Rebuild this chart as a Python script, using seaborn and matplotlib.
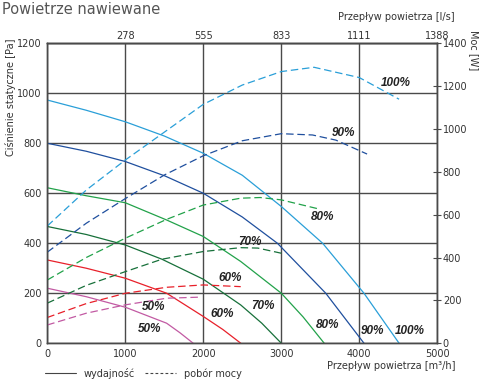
"""
plot.py - fan curves: static pressure (solid) and power input (dashed)
for supply air at 50-100% fan speed.
"""

import pandas as pd
import matplotlib
matplotlib.use("Agg")
import matplotlib.pyplot as plt
import seaborn as sns
from matplotlib.lines import Line2D

# ---- data -------------------------------------------------------------------
speeds = ["100%", "90%", "80%", "70%", "60%", "50%"]
colors = ["#2a9fd8", "#1f4f9e", "#22a24a", "#17703a", "#e8202a", "#c25aa3"]

# static pressure [Pa] vs air flow [m3/h]
flow_pa_100 = [0, 500, 1000, 1500, 2000, 2500, 3000, 3530, 4060, 4510]
pa_100 = [973, 932, 886, 829, 760, 672, 547, 400, 200, 0]
flow_pa_90 = [0, 500, 1000, 1510, 2000, 2500, 2950, 3570, 4060]
pa_90 = [800, 768, 727, 669, 600, 505, 400, 200, 0]
flow_pa_80 = [0, 500, 1000, 1530, 2000, 2480, 3000, 3280, 3550]
pa_80 = [622, 590, 562, 493, 427, 327, 200, 105, 0]
flow_pa_70 = [0, 500, 1000, 1470, 2000, 2480, 2750, 3000]
pa_70 = [467, 435, 393, 336, 256, 153, 80, 0]
flow_pa_60 = [0, 500, 1000, 1530, 2000, 2250, 2480]
pa_60 = [333, 300, 260, 200, 107, 55, 0]
flow_pa_50 = [0, 500, 1000, 1530, 1700, 1870]
pa_50 = [220, 186, 144, 80, 42, 0]

# power input [W] vs air flow [m3/h]
flow_w_100 = [0, 500, 1000, 1500, 2000, 2500, 3000, 3420, 4000, 4510]
w_100 = [547, 715, 855, 985, 1115, 1205, 1268, 1288, 1240, 1139]
flow_w_90 = [0, 500, 1000, 1500, 2000, 2500, 3000, 3400, 3700, 4100]
w_90 = [425, 560, 675, 785, 875, 945, 978, 972, 948, 883]
flow_w_80 = [0, 500, 1000, 1530, 2000, 2480, 2730, 3000, 3500]
w_80 = [295, 400, 490, 578, 645, 677, 680, 669, 625]
flow_w_70 = [0, 500, 1000, 1470, 2000, 2480, 2700, 3000]
w_70 = [187, 270, 334, 392, 428, 446, 444, 420]
flow_w_60 = [0, 500, 1000, 1530, 2000, 2480]
w_60 = [120, 185, 233, 261, 272, 264]
flow_w_50 = [0, 500, 1000, 1530, 1960]
w_50 = [85, 140, 179, 210, 215]

# top axis: same flow expressed in l/s
ls_ticks = [1000, 2000, 3000, 4000, 5000]
ls_labels = ["278", "555", "833", "1111", "1388"]

# curve labels: (x, y) in data units of the matching axis
pa_label_pos = [(4652, 50), (4168, 50), (3598, 73), (2767, 149), (2241, 117), (1311, 56)]
w_label_pos = [(4473, 1214), (3797, 983), (3526, 591), (2596, 474), (2339, 303), (1362, 168)]


def to_long(flows, values):
    rows = []
    for speed, fl, vals in zip(speeds, flows, values):
        for f, v in zip(fl, vals):
            rows.append({"speed": speed, "flow": f, "value": v})
    return pd.DataFrame(rows)


df_pa = to_long(
    [flow_pa_100, flow_pa_90, flow_pa_80, flow_pa_70, flow_pa_60, flow_pa_50],
    [pa_100, pa_90, pa_80, pa_70, pa_60, pa_50],
)
df_w = to_long(
    [flow_w_100, flow_w_90, flow_w_80, flow_w_70, flow_w_60, flow_w_50],
    [w_100, w_90, w_80, w_70, w_60, w_50],
)
palette = dict(zip(speeds, colors))

sns.set_style("white")
plt.rcParams["font.family"] = ["DejaVu Sans"]

GRID = "#4a4a4a"
TXT = "#333333"

fig = plt.figure(figsize=(4.8, 3.9), dpi=100)
ax = fig.add_axes([0.0985, 0.12, 0.8125, 0.769])
ax2 = ax.twinx()

sns.lineplot(data=df_pa, x="flow", y="value", hue="speed", palette=palette,
             estimator=None, legend=False, ax=ax, lw=0.9)
sns.lineplot(data=df_w, x="flow", y="value", hue="speed", palette=palette,
             estimator=None, legend=False, ax=ax2, lw=0.9,
             linestyle=(0, (6, 3)))

ax.set_xlim(0, 5000)
ax.set_ylim(0, 1200)
ax2.set_ylim(0, 1400)
ax.set_xticks(range(0, 5001, 1000))
ax.set_yticks(range(0, 1201, 200))
ax2.set_yticks(range(0, 1401, 200))
ax.set_xlabel("")
ax.set_ylabel("")
ax2.set_ylabel("")

ax.grid(True, color=GRID, lw=1.0)
ax.set_axisbelow(True)
ax.tick_params(length=0, labelsize=7, labelcolor=TXT, pad=4)
ax2.tick_params(axis="y", direction="inout", length=6, width=0.8,
                color=GRID, labelsize=7, labelcolor=TXT, pad=1)

top = ax.secondary_xaxis("top")
top.set_xticks(ls_ticks, labels=ls_labels)
top.tick_params(length=0, labelsize=7, labelcolor=TXT, pad=2)

for a in (ax, ax2, top):
    for sp in a.spines.values():
        sp.set_color(GRID)
        sp.set_linewidth(1.0)

lbl_kw = dict(family="Liberation Sans", weight="bold", style="italic",
              fontsize=8.5, color="#222222", ha="center", va="center")
for (x, y), s in zip(pa_label_pos, speeds):
    ax.text(x, y, s, **lbl_kw)
for (x, y), s in zip(w_label_pos, speeds):
    ax2.text(x, y, s, **lbl_kw)

fig.text(0.004, 0.976, "Powietrze nawiewane", fontsize=10.5, color="#555555",
         va="center", ha="left")
fig.text(0.948, 0.956, "Przepływ powietrza [l/s]", fontsize=7, color=TXT,
         ha="right", va="center")
fig.text(0.948, 0.062, "Przepływ powietrza [m³/h]", fontsize=7, color=TXT,
         ha="right", va="center")
fig.text(0.021, 0.751, "Ciśnienie statyczne [Pa]", fontsize=7, color=TXT,
         rotation=90, ha="center", va="center")
fig.text(0.988, 0.872, "Moc [W]", fontsize=7, color=TXT,
         rotation=270, ha="center", va="center")

handles = [Line2D([], [], color="#444444", lw=0.8),
           Line2D([], [], color="#444444", lw=0.8, linestyle=(0, (2.5, 2)))]
fig.legend(handles, ["wydajność", "pobór mocy"], loc="center left",
           bbox_to_anchor=(0.075, 0.043), ncol=2, frameon=False, fontsize=7,
           handlelength=3.2, columnspacing=1.0, handletextpad=0.8,
           labelcolor=TXT)

fig.savefig("out.png", dpi=100)
